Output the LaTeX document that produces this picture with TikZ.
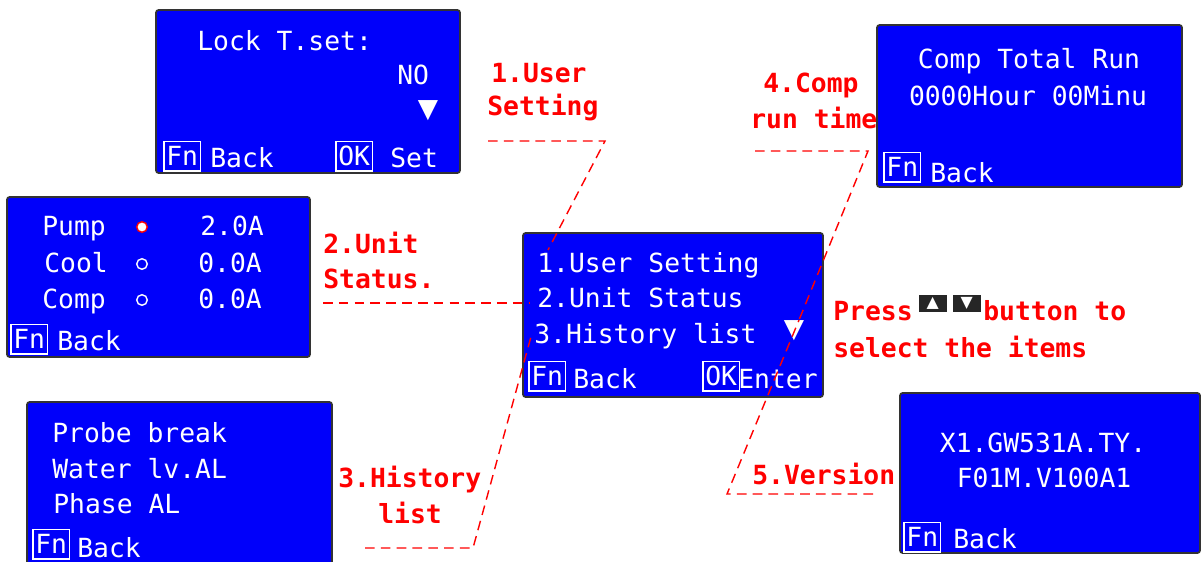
\documentclass[tikz,border=0pt]{standalone}
\usepackage{fontspec}
\usetikzlibrary{positioning}
\newfontfamily\lcd{DejaVu Sans Mono}
\newfontfamily\symb{DejaVu Sans}
\definecolor{lcdblue}{RGB}{0,0,250}
\tikzset{
	screen/.style={draw=black!80,fill=lcdblue,line width=1pt,rounded corners=1.5pt},
	lcdtext/.style={text=white,font={\lcd\fontsize{15}{18}\selectfont},inner sep=0pt,anchor=base west},
	note/.style={text=red,font={\lcd\bfseries\fontsize{15}{18}\selectfont},inner sep=0pt,anchor=base west},
	fnkey/.style={draw=white,line width=0.9pt,text=white,font={\lcd\fontsize{15}{18}\selectfont},inner sep=0pt,minimum width=21pt,minimum height=17pt,anchor=south west},
	scroll/.style={text=white,font={\symb\fontsize{15}{18}\selectfont},inner sep=0pt},
	led/.style={circle,draw=white,line width=0.8pt,inner sep=0pt,minimum size=6pt},
	arrowkey/.style={fill=black!85,text=white,font={\symb\fontsize{9}{9}\selectfont},inner sep=0pt,minimum width=16pt,minimum height=10pt},
	leader/.style={red,line width=0.8pt,dash pattern=on 5.5pt off 3.5pt}
}
\begin{document}
\begin{tikzpicture}[x=0.02cm,y=-0.02cm]
		\useasboundingbox (0,0) rectangle (1202,561);
		%Main menu
		\draw[screen] (523,233) rectangle (823,397);
		\node[lcdtext] (m1) at (537,272) {1.User Setting};
		\node[lcdtext] (m2) at (537,307) {2.Unit Status};
		\node[lcdtext] (m3) at (534,343) {3.History list};
		\node[scroll] (mdown) at (794,331) {▼};
		\node[fnkey] (mfn) at (528,392) {Fn};
		\node[lcdtext] (mback) at (573,388) {Back};
		\node[fnkey] (mok) at (702,392) {OK};
		\node[lcdtext] (menter) at (738,388) {Enter};
		%1 user setting
		\draw[screen] (156,10) rectangle (460,173);
		\node[lcdtext] (lock) at (197,50) {Lock T.set:};
		\node[lcdtext] (lockval) at (397,84) {NO};
		\node[scroll] (lockdown) at (428,111) {▼};
		\node[fnkey] (lockfn) at (163,172) {Fn};
		\node[lcdtext] (lockback) at (210,167) {Back};
		\node[fnkey] (lockok) at (335,172) {OK};
		\node[lcdtext] (lockset) at (390,167) {Set};
		%2 unit status
		\draw[screen] (7,197) rectangle (310,357);
		\node[lcdtext] (pump) at (42,235) {Pump};
		\node[lcdtext] (cool) at (44,272) {Cool};
		\node[lcdtext] (comp) at (42,308) {Comp};
		\node[led,draw=red,fill=white] (pumpled) at (142,227) {};
		\node[led] (coolled) at (142,264) {};
		\node[led] (compled) at (142,300) {};
		\node[lcdtext] (pumpamp) at (200,235) {2.0A};
		\node[lcdtext] (coolamp) at (198,272) {0.0A};
		\node[lcdtext] (compamp) at (198,308) {0.0A};
		\node[fnkey] (unitfn) at (10,355) {Fn};
		\node[lcdtext] (unitback) at (57,350) {Back};
		%3 history list
		\draw[screen] (27,402) rectangle (332,566);
		\node[lcdtext] (h1) at (52,442) {Probe break};
		\node[lcdtext] (h2) at (52,478) {Water lv.AL};
		\node[lcdtext] (h3) at (53,513) {Phase AL};
		\node[fnkey] (histfn) at (32,560) {Fn};
		\node[lcdtext] (histback) at (77,557) {Back};
		%4 comp run time
		\draw[screen] (877,25) rectangle (1182,187);
		\node[lcdtext,anchor=base] (run1) at (1029,68) {Comp Total Run};
		\node[lcdtext,anchor=base] (run2) at (1028,105) {0000Hour 00Minu};
		\node[fnkey] (runfn) at (883,183) {Fn};
		\node[lcdtext] (runback) at (930,182) {Back};
		%5 version
		\draw[screen] (900,393) rectangle (1200,553);
		\node[lcdtext,anchor=base] (ver1) at (1043,452) {X1.GW531A.TY.};
		\node[lcdtext,anchor=base] (ver2) at (1044,487) {F01M.V100A1};
		\node[fnkey] (verfn) at (903,553) {Fn};
		\node[lcdtext] (verback) at (953,548) {Back};
		%Labels
		\node[note] (n1a) at (491,82) {1.User};
		\node[note] (n1b) at (487,115) {Setting};
		\node[note] (n2a) at (323,253) {2.Unit};
		\node[note] (n2b) at (323,288) {Status.};
		\node[note] (n3a) at (338,487) {3.History};
		\node[note] (n3b) at (378,523) {list};
		\node[note] (n4a) at (763,92) {4.Comp};
		\node[note] (n4b) at (750,128) {run time};
		\node[note] (n5) at (752,484) {5.Version};
		\node[note] (press) at (833,320) {Press};
		\node[arrowkey,right=3pt of press.east,yshift=4pt] (keyup) {▲};
		\node[arrowkey,right=3pt of keyup] (keydn) {▼};
		\node[note,anchor=west,right=1pt of keydn,yshift=-4pt] (button) {button to};
		\node[note] (select) at (833,357) {select the items};
		%Leader lines
		\coordinate (a1) at (488,141);
		\coordinate (b1) at (605,141);
		\coordinate (e1) at (548,250);
		\coordinate (a2) at (323,303);
		\coordinate (e2) at (530,303);
		\coordinate (a3) at (365,548);
		\coordinate (b3) at (473,548);
		\coordinate (e3) at (532,333);
		\coordinate (a4) at (755,151);
		\coordinate (b4) at (868,151);
		\coordinate (e4) at (799,320);
		\coordinate (a5) at (873,494);
		\coordinate (b5) at (727,494);
		\draw[leader] (a1)--(b1)--(e1);
		\draw[leader] (a2)--(e2);
		\draw[leader] (a3)--(b3)--(e3);
		\draw[leader] (a4)--(b4)--(e4);
		\draw[leader] (a5)--(b5)--(e4);
		\end{tikzpicture}
\end{document}
